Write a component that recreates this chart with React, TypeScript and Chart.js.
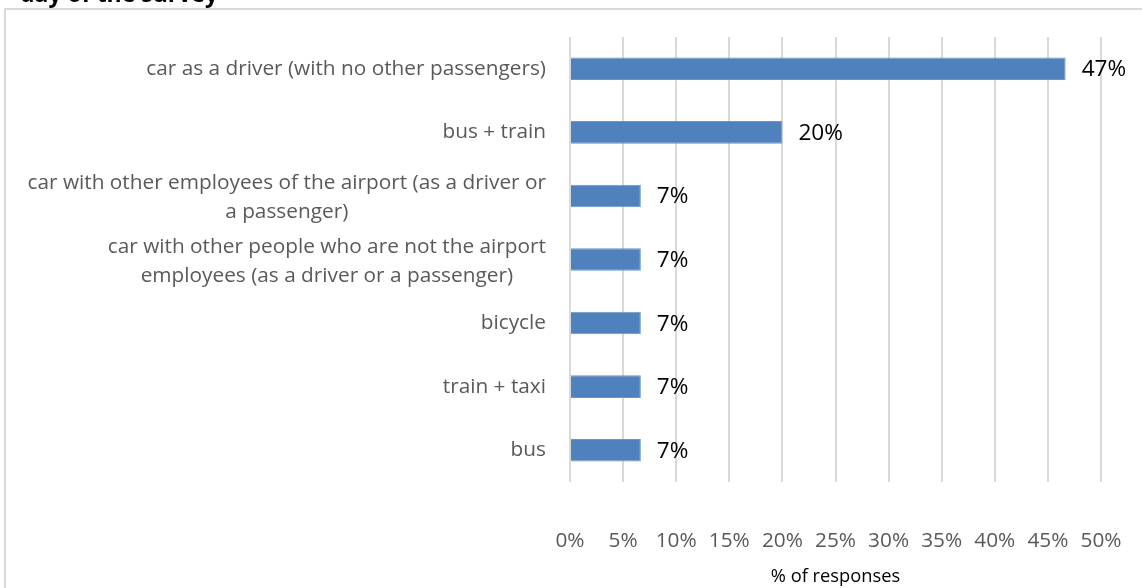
import React, { useEffect, useRef } from "react";
import { Chart, registerables } from "chart.js";

Chart.register(...registerables);

const chartTitle = "day of the survey";
const categoryLines: string[][] = [
  ["car as a driver (with no other passengers)"],
  ["bus + train"],
  ["car with other employees of the airport (as a driver or", "a passenger)"],
  ["car with other people who are not the airport", "employees (as a driver or a passenger)"],
  ["bicycle"],
  ["train + taxi"],
  ["bus"],
];
const categories = categoryLines.map((l) => l.join(" "));
const responseShare = [46.67, 20, 6.67, 6.67, 6.67, 6.67, 6.67];
const xMin = 0;
const xMax = 50;
const xStep = 5;
const xAxisTitle = "% of responses";

const FONT = "'Open Sans', 'DejaVu Sans', sans-serif";

const framePlugin = {
  id: "frameAndTitle",
  beforeDraw(chart: any) {
    const ctx = chart.ctx;
    ctx.save();
    ctx.strokeStyle = "#d9d9d9";
    ctx.lineWidth = 2;
    ctx.strokeRect(5, 9, 2000, 2000);
    ctx.fillStyle = "#000000";
    ctx.font = `bold 23px ${FONT}`;
    ctx.textAlign = "left";
    ctx.textBaseline = "alphabetic";
    ctx.fillText(chartTitle, 20, 2);
    ctx.restore();
  },
};

const labelsPlugin = {
  id: "catAndValueLabels",
  afterDatasetsDraw(chart: any) {
    const ctx = chart.ctx;
    const yScale = chart.scales.y;
    ctx.save();
    ctx.font = `20.8px ${FONT}`;
    ctx.fillStyle = "#595959";
    ctx.textBaseline = "middle";
    ctx.textAlign = "center";
    const rightEdge = chart.chartArea.left - 24;
    const lineGap = 29;
    categoryLines.forEach((lines, i) => {
      const yc = yScale.getPixelForValue(i);
      const w = Math.max(...lines.map((t) => ctx.measureText(t).width));
      const cx = rightEdge - w / 2;
      const y0 = yc - ((lines.length - 1) * lineGap) / 2 + (lines.length > 1 ? 2 : 0);
      lines.forEach((t, j) => ctx.fillText(t, cx, y0 + j * lineGap));
    });
    ctx.font = `22.6px ${FONT}`;
    ctx.fillStyle = "#000000";
    ctx.textAlign = "left";
    const meta = chart.getDatasetMeta(0);
    meta.data.forEach((bar: any, i: number) => {
      const v = responseShare[i];
      ctx.fillText(Math.round(v) + "%", bar.x + 16, bar.y + 1);
    });
    ctx.restore();
  },
};

export default function App() {
  const ref = useRef<HTMLCanvasElement | null>(null);
  useEffect(() => {
    if (!ref.current) return;
    const chart = new Chart(ref.current, {
      type: "bar",
      data: {
        labels: categories,
        datasets: [
          {
            data: responseShare,
            backgroundColor: "#4F81BD",
            borderColor: "#6a95c9",
            borderWidth: 1,
            barPercentage: 0.355,
            categoryPercentage: 1,
          },
        ],
      },
      options: {
        indexAxis: "y",
        animation: false,
        responsive: false,
        devicePixelRatio: 1,
        layout: { padding: { top: 37, right: 41, left: 0, bottom: 0 } },
        plugins: {
          legend: { display: false },
          tooltip: { enabled: false },
        },
        scales: {
          x: {
            type: "linear",
            position: "bottom",
            min: xMin,
            max: xMax,
            ticks: {
              stepSize: xStep,
              callback: (v: any) => v + "%",
              color: "#595959",
              font: { family: FONT, size: 20.8 },
              padding: 2,
              maxRotation: 0,
            },
            grid: {
              color: "#d9d9d9",
              lineWidth: 2,
              drawTicks: true,
              tickLength: 45,
              tickColor: "rgba(0,0,0,0)",
            },
            border: { display: false },
            title: {
              display: true,
              text: xAxisTitle,
              color: "#000000",
              font: { family: FONT, size: 18.3 },
              padding: { top: 0, bottom: 0 },
            },
            afterFit: (s: any) => {
              s.height = 106;
            },
          },
          y: {
            type: "category",
            ticks: { display: false },
            grid: { display: false },
            border: { display: false },
            afterFit: (s: any) => {
              s.width = 570;
            },
          },
        },
      },
      plugins: [framePlugin, labelsPlugin],
    });
    return () => chart.destroy();
  }, []);
  return (
    <div style={{ position: "absolute", left: 0, top: 0, width: 1142, height: 588, background: "#fff" }}>
      <canvas ref={ref} width={1142} height={588} style={{ display: "block", width: 1142, height: 588 }} />
    </div>
  );
}
